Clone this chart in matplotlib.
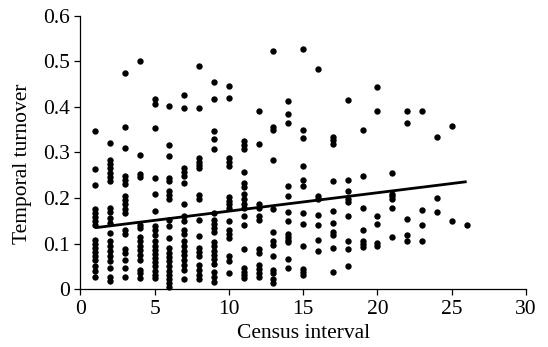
import matplotlib
matplotlib.use("Agg")
import matplotlib.pyplot as plt
import numpy as np

# Temporal turnover values observed at each census interval (1..26)
t01 = [0.347, 0.263, 0.229, 0.177, 0.168, 0.159, 0.149, 0.140, 0.109, 0.100, 0.091, 0.082, 0.073, 0.064, 0.050, 0.041, 0.026]
t02 = [0.320, 0.284, 0.274, 0.265, 0.256, 0.246, 0.237, 0.179, 0.169, 0.157, 0.146, 0.124, 0.105, 0.094, 0.083, 0.072, 0.061, 0.046, 0.027, 0.019]
t03 = [0.475, 0.355, 0.309, 0.249, 0.240, 0.231, 0.204, 0.196, 0.186, 0.177, 0.168, 0.131, 0.122, 0.088, 0.079, 0.065, 0.046, 0.026]
t04 = [0.501, 0.295, 0.252, 0.246, 0.142, 0.134, 0.115, 0.105, 0.096, 0.087, 0.076, 0.064, 0.042, 0.035, 0.024]
t05 = [0.418, 0.407, 0.353, 0.243, 0.208, 0.171, 0.138, 0.129, 0.120, 0.105, 0.096, 0.087, 0.078, 0.068, 0.059, 0.050, 0.041, 0.031, 0.024]
t06 = [0.403, 0.316, 0.293, 0.244, 0.237, 0.215, 0.206, 0.197, 0.153, 0.138, 0.112, 0.090, 0.080, 0.070, 0.061, 0.050, 0.041, 0.031, 0.022, 0.013, 0.006]
t07 = [0.427, 0.397, 0.267, 0.257, 0.249, 0.232, 0.186, 0.160, 0.149, 0.131, 0.122, 0.105, 0.094, 0.085, 0.076, 0.064, 0.053, 0.042, 0.022]
t08 = [0.490, 0.398, 0.289, 0.280, 0.272, 0.265, 0.206, 0.199, 0.153, 0.116, 0.090, 0.081, 0.073, 0.053, 0.042, 0.031, 0.022]
t09 = [0.455, 0.417, 0.347, 0.330, 0.308, 0.168, 0.153, 0.144, 0.134, 0.125, 0.103, 0.094, 0.085, 0.076, 0.066, 0.056, 0.037, 0.026, 0.017]
t10 = [0.445, 0.419, 0.289, 0.280, 0.271, 0.203, 0.194, 0.186, 0.179, 0.149, 0.131, 0.122, 0.112, 0.072, 0.063, 0.035]
t11 = [0.326, 0.317, 0.308, 0.257, 0.232, 0.225, 0.210, 0.198, 0.188, 0.179, 0.160, 0.142, 0.088, 0.046, 0.039, 0.031, 0.024]
t12 = [0.392, 0.318, 0.188, 0.179, 0.160, 0.151, 0.088, 0.079, 0.053, 0.044, 0.036, 0.028]
t13 = [0.523, 0.355, 0.349, 0.283, 0.177, 0.125, 0.105, 0.098, 0.072, 0.042, 0.035, 0.022, 0.014]
t14 = [0.413, 0.385, 0.364, 0.227, 0.204, 0.170, 0.149, 0.122, 0.115, 0.109, 0.103, 0.067, 0.046]
t15 = [0.526, 0.350, 0.332, 0.271, 0.240, 0.227, 0.167, 0.144, 0.096, 0.044, 0.038, 0.031]
t16 = [0.484, 0.204, 0.198, 0.162, 0.142, 0.109, 0.083]
t17 = [0.334, 0.328, 0.318, 0.237, 0.171, 0.146, 0.125, 0.120, 0.090, 0.037]
t18 = [0.415, 0.240, 0.215, 0.197, 0.191, 0.160, 0.107, 0.088, 0.051]
t19 = [0.350, 0.249, 0.179, 0.131, 0.105, 0.100, 0.092]
t20 = [0.443, 0.391, 0.160, 0.143, 0.101, 0.096]
t21 = [0.256, 0.210, 0.204, 0.199, 0.179, 0.114]
t22 = [0.392, 0.364, 0.154, 0.120, 0.105]
t23 = [0.392, 0.174, 0.142, 0.105]
t24 = [0.335, 0.200, 0.170]
t25 = [0.359, 0.149]
t26 = [0.140]

intervals = list(range(1, 27))
columns = [t01, t02, t03, t04, t05, t06, t07, t08, t09, t10, t11, t12, t13,
           t14, t15, t16, t17, t18, t19, t20, t21, t22, t23, t24, t25, t26]

# Fitted regression line
fit_x = [1, 26]
fit_y = [0.135, 0.236]

x_ticks = [0, 5, 10, 15, 20, 25, 30]
y_ticks = [0, 0.1, 0.2, 0.3, 0.4, 0.5, 0.6]
y_tick_labels = ["0", "0.1", "0.2", "0.3", "0.4", "0.5", "0.6"]

xs = np.concatenate([[iv] * len(c) for iv, c in zip(intervals, columns)])
ys = np.concatenate(columns)

plt.rcParams['font.family'] = ['Liberation Serif', 'DejaVu Serif']

fig = plt.figure(figsize=(5.48, 3.47), dpi=100)
ax = fig.add_axes([0.1465, 0.1663, 0.8135, 0.7885])

ax.scatter(xs, ys, s=21, color='black', linewidths=0, zorder=3, clip_on=False)
ax.plot(fit_x, fit_y, color='black', lw=2.0, zorder=4, solid_capstyle='butt')

ax.set_xlim(0, 30)
ax.set_ylim(0, 0.6)
ax.set_xticks(x_ticks)
ax.set_xticklabels([str(v) for v in x_ticks])
ax.set_yticks(y_ticks)
ax.set_yticklabels(y_tick_labels)

for side in ['top', 'right']:
    ax.spines[side].set_visible(False)
for side in ['left', 'bottom']:
    ax.spines[side].set_linewidth(0.9)

ax.tick_params(axis='both', direction='out', length=4.5, width=0.9,
               labelsize=15.5, colors='black', pad=3)

ax.set_xlabel("Census interval", fontsize=15.5, labelpad=4)
ax.set_ylabel("Temporal turnover", fontsize=15.5)
ax.yaxis.set_label_coords(-0.108, 0.46)

fig.savefig("out.png", dpi=100)
